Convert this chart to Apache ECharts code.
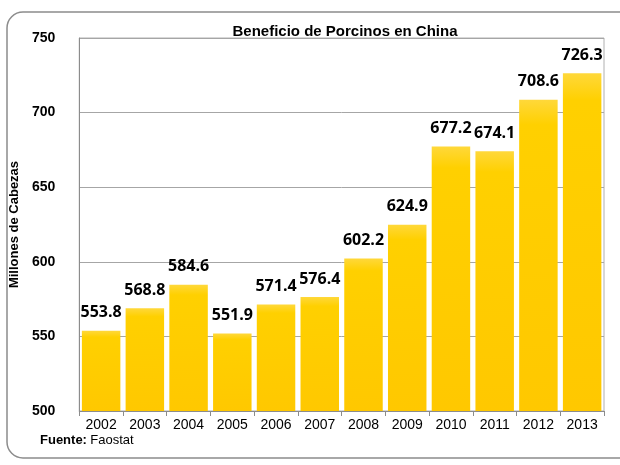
<!DOCTYPE html>
<html>
<head>
<meta charset="utf-8">
<script src="https://cdn.jsdelivr.net/npm/echarts@6/dist/echarts.min.js"></script>
<style>
  html, body { margin: 0; padding: 0; background: #fff; }
  #chart { width: 620px; height: 465px; }
</style>
</head>
<body>
<div id="chart"></div>
<script>
// datos
const years = ['2002', '2003', '2004', '2005', '2006', '2007', '2008', '2009', '2010', '2011', '2012', '2013']
const cabezas = [553.8, 568.8, 584.6, 551.9, 571.4, 576.4, 602.2, 624.9, 677.2, 674.1, 708.6, 726.3]

const chart = echarts.init(document.getElementById('chart'))

const option = {
  animation: false,
  title: [
    {
      // titulo cortado arriba en la imagen original
      text: 'Gráfico 1',
      left: 'center',
      top: -17,
      textStyle: { fontFamily: 'Liberation Sans', fontSize: 16, fontWeight: 'bold', color: '#000' }
    },
    {
      text: 'Beneficio de Porcinos en China',
      left: 340,
      textAlign: 'center',
      top: 19,
      textStyle: { fontFamily: 'Liberation Sans', fontSize: 15, fontWeight: 'bold', color: '#000' }
    }
  ],
  graphic: [
    {
      // marco redondeado exterior
      type: 'rect',
      shape: { x: 7, y: 12, width: 640, height: 446, r: 16 },
      style: { fill: 'none', stroke: '#8c8c8c', lineWidth: 1.5 },
      silent: true
    },
    {
      type: 'text',
      left: 40,
      top: 434,
      style: {
        rich: {
          b: { fontFamily: 'Liberation Sans', fontSize: 13, fontWeight: 'bold', fill: '#000' },
          n: { fontFamily: 'Liberation Sans', fontSize: 13, fill: '#000' }
        },
        text: '{b|Fuente:} {n|Faostat}'
      }
    }
  ],
  grid: {
    left: 76,
    right: 16,
    top: 38,
    bottom: 54,
    show: true,
    borderColor: '#b0b0b0',
    borderWidth: 1
  },
  xAxis: {
    type: 'category',
    data: years,
    axisLine: { lineStyle: { color: '#8c8c8c' } },
    axisTick: { show: true, alignWithLabel: false, lineStyle: { color: '#8c8c8c' } },
    axisLabel: { color: '#000', fontFamily: 'Liberation Sans', fontSize: 14, margin: 7 }
  },
  yAxis: {
    type: 'value',
    min: 500,
    max: 750,
    interval: 50,
    name: 'Millones de Cabezas',
    nameLocation: 'middle',
    nameGap: 50,
    nameTextStyle: { fontFamily: 'Liberation Sans', fontSize: 13, fontWeight: 'bold', color: '#000' },
    axisLine: { show: true, lineStyle: { color: '#8c8c8c' } },
    axisTick: { show: false },
    axisLabel: { color: '#000', fontFamily: 'Liberation Sans', fontSize: 14, fontWeight: 'bold', margin: 24 },
    splitLine: { lineStyle: { color: '#a6a6a6' } }
  },
  series: [
    {
      type: 'bar',
      data: cabezas,
      barCategoryGap: '12%',
      itemStyle: {
        color: new echarts.graphic.LinearGradient(0, 0, 0, 1, [
          { offset: 0, color: '#ffd83a' },
          { offset: 0.08, color: '#ffd000' },
          { offset: 1, color: '#ffc800' }
        ])
      },
      label: {
        show: true,
        position: 'top',
        distance: 10,
        formatter: p => p.value.toFixed(1),
        fontFamily: 'Open Sans',
        fontSize: 16,
        fontWeight: 'bold',
        color: '#000'
      }
    }
  ]
}

chart.setOption(option)
</script>
</body>
</html>
